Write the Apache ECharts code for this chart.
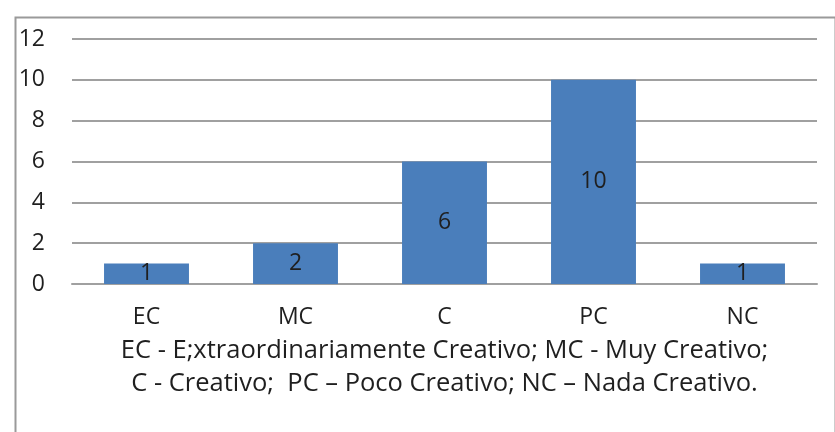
<!DOCTYPE html>
<html>
<head>
<meta charset="utf-8">
<script src="https://cdn.jsdelivr.net/npm/echarts@6/dist/echarts.min.js"></script>
<style>
  html, body { margin: 0; padding: 0; background: #fff; }
  #chart { width: 835px; height: 432px; }
</style>
</head>
<body>
<div id="chart"></div>
<script>
// categorias y valores
var categories = ["EC", "MC", "C", "PC", "NC"];
var values = [1, 2, 6, 10, 1];
var yTicks = [0, 2, 4, 6, 8, 10, 12];
var axisTitle = "EC - E;xtraordinariamente Creativo; MC - Muy Creativo;\nC - Creativo;  PC \u2013 Poco Creativo; NC \u2013 Nada Creativo.";

var font = "Open Sans";
var textColor = "#1f1f1f";
var gridColor = "#a0a0a0";

var myChart = echarts.init(document.getElementById("chart"));
var option = {
  animation: false,
  graphic: [
    {
      type: "rect",
      left: 13,
      top: 15,
      shape: { width: 820, height: 430 },
      style: { fill: "none", stroke: "#9a9a9a", lineWidth: 2 }
    }
  ],
  grid: {
    left: 72,
    right: 18,
    top: 39,
    bottom: 148
  },
  xAxis: {
    type: "category",
    data: categories,
    axisTick: { show: false },
    axisLine: { lineStyle: { color: gridColor, width: 2 } },
    axisLabel: {
      color: textColor,
      fontFamily: font,
      fontSize: 23,
      margin: 22
    },
    name: axisTitle,
    nameLocation: "middle",
    nameGap: 50,
    nameTextStyle: {
      color: textColor,
      fontFamily: font,
      fontSize: 25.5,
      lineHeight: 33
    }
  },
  yAxis: {
    type: "value",
    min: yTicks[0],
    max: yTicks[yTicks.length - 1],
    interval: 2,
    axisLine: { show: false },
    axisTick: { show: false },
    axisLabel: {
      color: textColor,
      fontFamily: font,
      fontSize: 23,
      margin: 27
    },
    splitLine: { lineStyle: { color: gridColor, width: 2 } }
  },
  series: [
    {
      type: "bar",
      data: values,
      barCategoryGap: "43%",
      itemStyle: { color: "#4a7ebb" },
      label: {
        show: true,
        position: "inside",
        color: textColor,
        fontFamily: font,
        fontSize: 23
      }
    }
  ]
};
myChart.setOption(option);
</script>
</body>
</html>
